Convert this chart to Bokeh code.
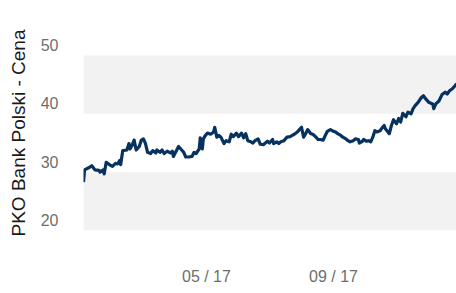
import pandas as pd
from bokeh.plotting import figure
from bokeh.models import (Range1d, LinearAxis, DatetimeAxis, FixedTicker,
                          DatetimeTickFormatter, BoxAnnotation)
from bokeh.embed import file_html
from bokeh.resources import INLINE

dates = [
    "2017-01-02", "2017-01-03", "2017-01-07", "2017-01-10", "2017-01-13", "2017-01-17",
    "2017-01-18", "2017-01-21", "2017-01-22", "2017-01-24", "2017-01-27", "2017-01-30",
    "2017-02-02", "2017-02-04", "2017-02-06", "2017-02-07", "2017-02-09", "2017-02-13",
    "2017-02-15", "2017-02-16", "2017-02-18", "2017-02-20", "2017-02-22", "2017-02-25",
    "2017-02-27", "2017-03-01", "2017-03-03", "2017-03-05", "2017-03-08", "2017-03-10",
    "2017-03-13", "2017-03-14", "2017-03-17", "2017-03-19", "2017-03-21", "2017-03-24",
    "2017-03-27", "2017-03-29", "2017-03-30", "2017-04-02", "2017-04-04", "2017-04-07",
    "2017-04-09", "2017-04-11", "2017-04-14", "2017-04-17", "2017-04-19", "2017-04-21",
    "2017-04-24", "2017-04-25", "2017-04-27", "2017-04-28", "2017-04-30", "2017-05-02",
    "2017-05-05", "2017-05-08", "2017-05-09", "2017-05-11", "2017-05-13", "2017-05-15",
    "2017-05-18", "2017-05-20", "2017-05-23", "2017-05-25", "2017-05-27", "2017-05-30",
    "2017-06-01", "2017-06-04", "2017-06-06", "2017-06-08", "2017-06-10", "2017-06-13",
    "2017-06-15", "2017-06-17", "2017-06-20", "2017-06-22", "2017-06-25", "2017-06-27",
    "2017-06-29", "2017-07-01", "2017-07-04", "2017-07-05", "2017-07-08", "2017-07-10",
    "2017-07-12", "2017-07-15", "2017-07-18", "2017-07-21", "2017-07-23", "2017-07-25",
    "2017-07-28", "2017-07-30", "2017-08-01", "2017-08-03", "2017-08-05", "2017-08-07",
    "2017-08-10", "2017-08-12", "2017-08-15", "2017-08-17", "2017-08-19", "2017-08-22",
    "2017-08-24", "2017-08-26", "2017-08-29", "2017-09-01", "2017-09-03", "2017-09-05",
    "2017-09-08", "2017-09-10", "2017-09-13", "2017-09-15", "2017-09-17", "2017-09-20",
    "2017-09-22", "2017-09-25", "2017-09-26", "2017-09-29", "2017-09-30", "2017-10-03",
    "2017-10-05", "2017-10-07", "2017-10-09", "2017-10-11", "2017-10-13", "2017-10-16",
    "2017-10-18", "2017-10-20", "2017-10-21", "2017-10-25", "2017-10-27", "2017-10-29",
    "2017-11-01", "2017-11-03", "2017-11-05", "2017-11-07", "2017-11-10", "2017-11-12",
    "2017-11-15", "2017-11-17", "2017-11-19", "2017-11-22", "2017-11-25", "2017-11-27",
    "2017-11-29", "2017-12-02", "2017-12-06", "2017-12-07", "2017-12-09", "2017-12-12",
    "2017-12-15", "2017-12-18", "2017-12-20", "2017-12-22", "2017-12-25", "2017-12-28",
    "2017-12-29",
]
prices = [
    28.3, 30.4, 30.75, 31.1, 30.4, 30.3,
    30.0, 30.4, 29.7, 31.7, 31.3, 31.0,
    31.5, 31.4, 32.0, 31.3, 33.7, 33.8,
    34.9, 34.0, 34.6, 35.5, 33.8, 34.4,
    35.5, 35.7, 34.9, 33.4, 33.2, 33.7,
    33.3, 33.8, 33.4, 33.8, 33.2, 33.6,
    33.3, 33.6, 32.7, 33.7, 34.4, 33.8,
    33.4, 32.6, 32.6, 32.7, 33.4, 33.2,
    34.0, 35.9, 34.0, 35.7, 36.3, 36.7,
    36.5, 36.9, 37.7, 36.0, 36.3, 36.0,
    34.9, 35.4, 35.2, 36.5, 36.1, 36.7,
    36.1, 36.7, 35.9, 36.6, 35.4, 35.2,
    35.0, 35.4, 35.7, 34.8, 34.7, 35.0,
    35.3, 35.0, 35.6, 34.9, 35.2, 34.9,
    35.2, 35.4, 36.0, 36.1, 36.3, 36.5,
    36.9, 37.3, 37.7, 36.0, 36.6, 37.3,
    36.6, 36.5, 36.0, 35.6, 35.6, 35.5,
    36.3, 37.0, 37.3, 37.0, 36.9, 36.6,
    36.3, 36.0, 35.7, 35.4, 35.2, 35.4,
    35.7, 35.6, 35.0, 35.3, 35.6, 35.3,
    35.4, 35.2, 36.0, 37.1, 36.9, 37.1,
    37.6, 38.0, 37.5, 36.6, 38.0, 39.0,
    38.3, 39.2, 38.6, 40.1, 39.5, 40.3,
    40.0, 40.9, 41.4, 42.0, 42.8, 43.1,
    42.6, 42.0, 41.7, 40.9, 41.7, 42.2,
    43.3, 43.7, 43.4, 43.9, 44.3, 44.9,
    45.2,
]
y_ticks = [20, 30, 40, 50]
x_tick_dates = ["2017-05-01", "2017-09-01"]
gray_bands = [(20, 30), (40, 50)]
y_label = "PKO Bank Polski - Cena"

x = pd.to_datetime(dates)

Y_TOP = 53.43
p = figure(width=456, height=293, x_axis_type=None, y_axis_location=None,
           x_range=Range1d(x[0], x[-1]), y_range=Range1d(20, Y_TOP),
           output_backend="svg", toolbar_location=None,
           min_border_left=83, min_border_right=0, min_border_top=35,
           min_border_bottom=63)
p.outline_line_color = None
p.xgrid.visible = False
p.ygrid.visible = False
p.background_fill_color = "white"
p.border_fill_color = "white"

for lo, hi in gray_bands:
    p.add_layout(BoxAnnotation(bottom=lo, top=hi, fill_color="#f2f2f2",
                               fill_alpha=1.0, line_color=None, level="underlay"))

p.line(x, prices, line_color="#07325f", line_width=3.2, line_join="round")

# axis labels sit slightly above their grid positions
off = 10.5 / (195.0 / (Y_TOP - 20))
p.extra_y_ranges = {"lab": Range1d(20 - off, Y_TOP - off)}
yaxis = LinearAxis(y_range_name="lab", ticker=FixedTicker(ticks=y_ticks),
                   axis_label=y_label)
yaxis.axis_line_color = None
yaxis.major_tick_line_color = None
yaxis.minor_tick_line_color = None
yaxis.major_label_text_font = "Liberation Sans"
yaxis.major_label_text_font_size = "16px"
yaxis.major_label_text_color = "#6e6e6e"
yaxis.major_label_standoff = 19
yaxis.axis_label_text_font = "Liberation Sans"
yaxis.axis_label_text_font_size = "19px"
yaxis.axis_label_text_font_style = "normal"
yaxis.axis_label_text_color = "#1a1a1a"
yaxis.axis_label_standoff = 9
p.add_layout(yaxis, "left")

fmt = "%m / %y"
xticks = [pd.Timestamp(d).value // 10**6 for d in x_tick_dates]
xaxis = DatetimeAxis(ticker=FixedTicker(ticks=xticks),
                     formatter=DatetimeTickFormatter(
                         milliseconds=fmt, seconds=fmt, minsec=fmt, minutes=fmt,
                         hourmin=fmt, hours=fmt, days=fmt, months=fmt, years=fmt))
xaxis.axis_line_color = None
xaxis.major_tick_line_color = None
xaxis.minor_tick_line_color = None
xaxis.major_label_text_font = "Liberation Sans"
xaxis.major_label_text_font_size = "16px"
xaxis.major_label_text_color = "#6e6e6e"
xaxis.major_label_standoff = 31
p.add_layout(xaxis, "below")

open("out.html", "w").write(file_html(p, INLINE))
